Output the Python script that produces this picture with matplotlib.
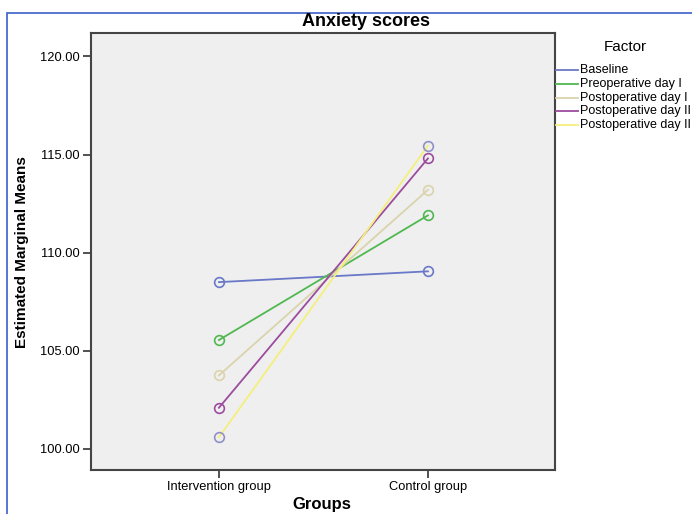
import matplotlib
matplotlib.use("Agg")
import matplotlib.pyplot as plt
from matplotlib.patches import Rectangle
from matplotlib.lines import Line2D

plt.rcParams['font.family'] = ['Liberation Sans', 'DejaVu Sans']

# data
groups = ["Intervention group", "Control group"]
factors = ["Baseline", "Preoperative day I", "Postoperative day I",
           "Postoperative day II", "Postoperative day II"]
baseline = [108.50, 109.05]
preop_1 = [105.55, 111.90]
postop_1 = [103.75, 113.20]
postop_2 = [102.10, 114.80]
postop_3 = [100.60, 115.45]
series = [baseline, preop_1, postop_1, postop_2, postop_3]

line_colors = ["#6a78c8", "#50b850", "#d9d4ac", "#9c4c9e", "#f4ef7c"]
marker_colors = ["#6a78c8", "#50b850", "#d9d4ac", "#9c4c9e", "#9090c8"]
yticks = [100, 105, 110, 115, 120]

W, H = 692, 514
fig = plt.figure(figsize=(W / 100, H / 100), dpi=100)
ax = fig.add_axes([91 / W, 1 - 470 / H, 464 / W, 437 / H])
ax.set_facecolor("#efefef")

# blue outer frame
fig.patches.append(Rectangle((7 / W, -0.1), 1.2, 1.1 - 13 / H,
                             transform=fig.transFigure, fill=False,
                             edgecolor="#3b5fc8", linewidth=1.2))

xs = list(range(len(groups)))
for vals, lc, mc in zip(series, line_colors, marker_colors):
    ax.plot(xs, vals, color=lc, linewidth=1.3, zorder=2)
    ax.plot(xs, vals, linestyle="none", marker="o", markersize=7,
            markerfacecolor="none", markeredgecolor=mc, markeredgewidth=1.2,
            zorder=3)

ax.set_xlim(-0.612, 1.608)
ax.set_ylim(98.93, 121.19)
ax.set_xticks(xs)
ax.set_xticklabels(groups, fontsize=9.3)
ax.set_yticks(yticks)
ax.set_yticklabels([f"{v:.2f}" for v in yticks], fontsize=9.3)
ax.tick_params(direction="out", length=6, width=1.2, color="#333333", pad=2)

for sp in ax.spines.values():
    sp.set_color("#444444")
    sp.set_linewidth(1.5)

fig.text(366 / W, 1 - 22 / H, "Anxiety scores", fontsize=13, fontweight="bold",
         ha="center", va="center")
fig.text(322 / W, 1 - 504 / H, "Groups", fontsize=12, fontweight="bold",
         ha="center", va="center")
fig.text(22 / W, 1 - 252 / H, "Estimated Marginal Means", fontsize=11,
         fontweight="bold", rotation=90, ha="center", va="center")

# legend on the right, laid out like the reference
fig.text(625 / W, 1 - 47 / H, "Factor", fontsize=11, ha="center", va="center")
for i, (name, c) in enumerate(zip(factors, line_colors)):
    y = 1 - (70 + i * 13.8) / H
    fig.add_artist(Line2D([556 / W, 578 / W], [y, y], color=c, linewidth=1.3,
                          transform=fig.transFigure))
    fig.text(580 / W, y, name, fontsize=9, ha="left", va="center")

fig.savefig("out.png", dpi=100, facecolor="white")
